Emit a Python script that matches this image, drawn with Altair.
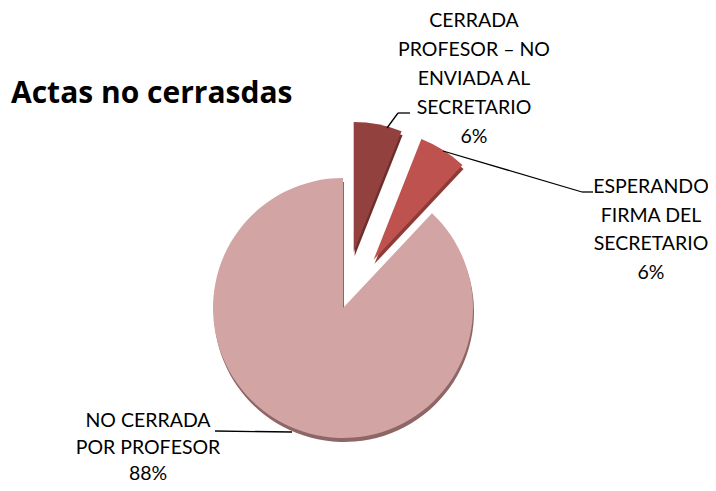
import math
import altair as alt
import pandas as pd

# ---- data ----
categories = [
    "CERRADA PROFESOR – NO ENVIADA AL SECRETARIO",
    "ESPERANDO FIRMA DEL SECRETARIO",
    "NO CERRADA POR PROFESOR",
]
percent = [6, 6, 88]
slice_order = [1, 2, 3]

label_lines = [
    ["CERRADA", "PROFESOR – NO", "ENVIADA AL", "SECRETARIO", "6%"],
    ["ESPERANDO", "FIRMA DEL", "SECRETARIO", "6%"],
    ["NO CERRADA", "POR PROFESOR", "88%"],
]
title_text = "Actas no cerrasdas"

# ---- styles / layout (page pixel coords, page margin 8) ----
M = 8
CX, CY, R = 343 - M, 308 - M, 130
explode = [57, 57, 0]
colors = ["#93413F", "#BE524F", "#D3A4A4"]
shade = ["#6E2E2C", "#8E3A37", "#8F6666"]

label_x = [474, 651, 148]
label_y0 = [21, 187, 421]
line_h = [29, 28.5, 26.5]
leaders = [  # (x, y, x2, y2) in page coords
    (387, 128, 398, 113), (398, 113, 410, 113),
    (443, 151, 582, 192), (582, 192, 593, 192),
    (292, 432, 215, 431),
]

slices = pd.DataFrame({
    "category": categories,
    "percent": percent,
    "order": slice_order,
    "explode": explode,
    "shade": shade,
})

base = alt.Chart(slices).transform_joinaggregate(
    total="sum(percent)"
).transform_window(
    cum="sum(percent)", sort=[alt.SortField("order")], frame=[None, 0]
).transform_calculate(
    t1="2*PI*datum.cum/datum.total",
    t0="2*PI*(datum.cum-datum.percent)/datum.total",
).transform_calculate(
    mid="(datum.t0+datum.t1)/2"
).transform_calculate(
    cx=f"{CX}+datum.explode*sin(datum.mid)",
    cy=f"{CY}-datum.explode*cos(datum.mid)",
)

shadow = base.transform_calculate(
    sx="datum.cx+1", sy="datum.cy+4"
).mark_arc(radius=R).encode(
    x=alt.X("sx:Q", scale=None, axis=None),
    y=alt.Y("sy:Q", scale=None, axis=None),
    theta=alt.Theta("t0:Q", scale=None),
    theta2="t1:Q",
    color=alt.Color("shade:N", scale=None, legend=None),
)

pie = base.mark_arc(radius=R).encode(
    x=alt.X("cx:Q", scale=None, axis=None),
    y=alt.Y("cy:Q", scale=None, axis=None),
    theta=alt.Theta("t0:Q", scale=None),
    theta2="t1:Q",
    color=alt.Color("category:N", scale=alt.Scale(domain=categories, range=colors), legend=None),
)

lead_df = pd.DataFrame(
    [{"x": a - M, "y": b - M, "x2": c - M, "y2": d - M} for a, b, c, d in leaders]
)
lead = alt.Chart(lead_df).mark_rule(color="black", strokeWidth=1.3).encode(
    x=alt.X("x:Q", scale=None), y=alt.Y("y:Q", scale=None),
    x2="x2:Q", y2="y2:Q",
)

rows = []
for i, lines in enumerate(label_lines):
    for j, t in enumerate(lines):
        rows.append({"text": t, "x": label_x[i] - M, "y": label_y0[i] + j * line_h[i] - M})
lab = alt.Chart(pd.DataFrame(rows)).mark_text(
    font="Lato", fontSize=19.5, align="center", baseline="middle", color="#000000"
).encode(
    x=alt.X("x:Q", scale=None), y=alt.Y("y:Q", scale=None), text="text:N"
)

title = alt.Chart(pd.DataFrame({"t": [title_text]})).mark_text(
    font="Open Sans", fontSize=30, fontWeight="bold", align="left", baseline="alphabetic", color="#000000"
).encode(
    x=alt.value(11 - M), y=alt.value(103 - M), text="t:N"
)

chart = alt.layer(shadow, pie, lead, lab, title).properties(
    width=700, height=475, autosize="none", padding=0
).configure_view(stroke=None)

chart.save("out.html", embed_options={"renderer": "svg", "actions": False})
